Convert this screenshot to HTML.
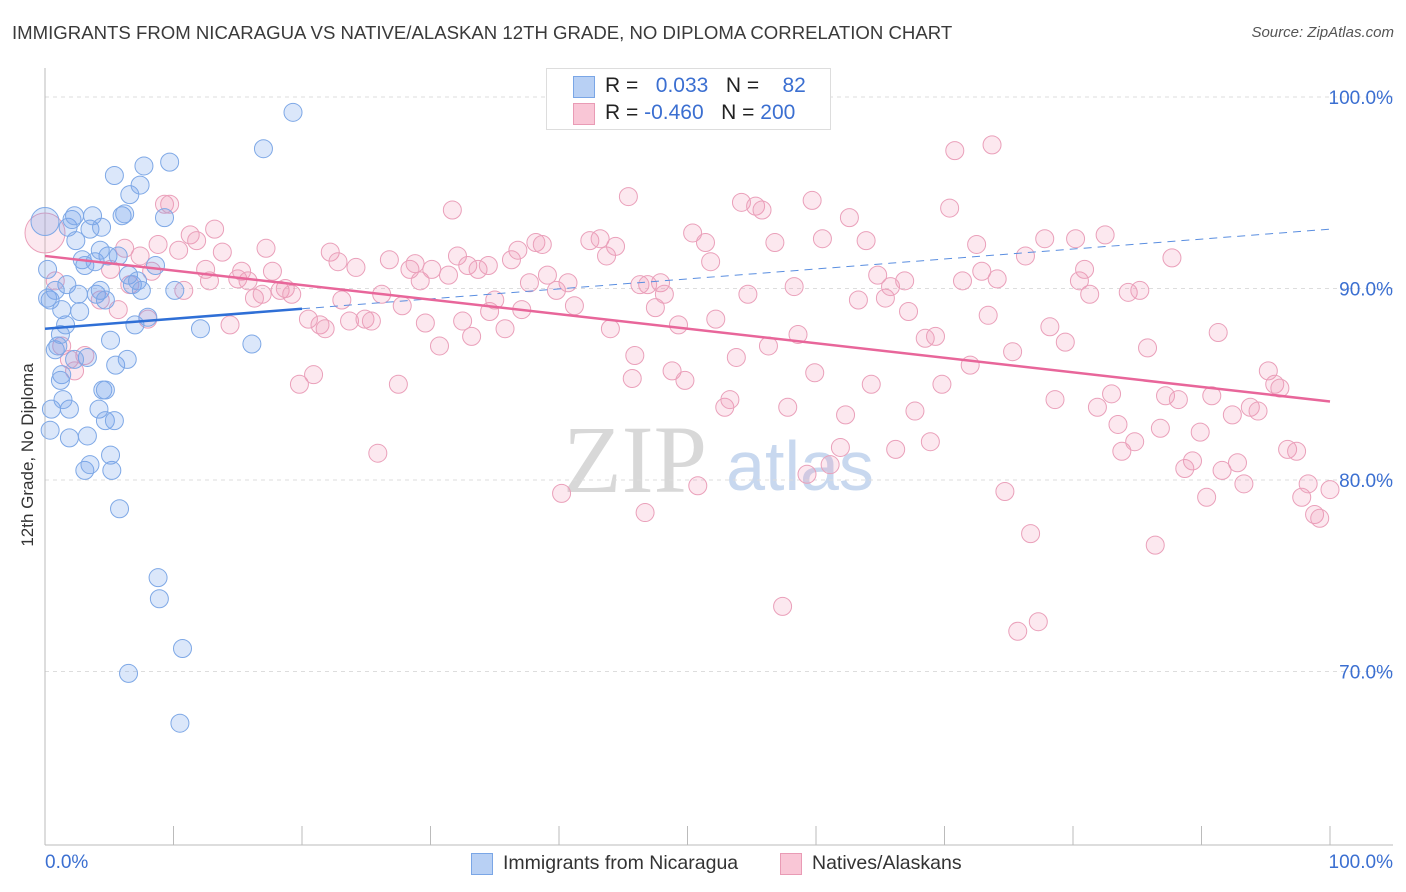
<!DOCTYPE html>
<html><head><meta charset="utf-8">
<style>
body{margin:0;background:#fff;font-family:"Liberation Sans",sans-serif;}
#wrap{position:relative;width:1406px;height:892px;overflow:hidden;}
.t{position:absolute;white-space:nowrap;}
</style></head><body>
<div id="wrap">
<div class="t" style="left:12px;top:22px;font-size:18.6px;color:#3a3a3a;">IMMIGRANTS FROM NICARAGUA VS NATIVE/ALASKAN 12TH GRADE, NO DIPLOMA CORRELATION CHART</div>
<div class="t" style="right:12px;top:24px;font-size:15px;color:#555;font-style:italic;">Source: ZipAtlas.com</div>
<svg id="svg" width="1406" height="892" style="position:absolute;left:0;top:0">
<text x="635" y="492" font-family="Liberation Serif,serif" font-size="96" fill="#d8d8d8" text-anchor="middle">ZIP</text>
<text x="800" y="490" font-family="Liberation Sans,sans-serif" font-size="70" fill="#c8d8ef" text-anchor="middle">atlas</text>
</svg>
<div class="t" style="left:28px;top:455px;font-size:17px;color:#333;transform:translate(-50%,-50%) rotate(-90deg);">12th Grade, No Diploma</div>
<div class="t" style="left:45px;top:852px;font-size:19px;color:#3b6fd1;">0.0%</div>
<div class="t" style="right:13px;top:852px;font-size:19px;color:#3b6fd1;">100.0%</div>
<div style="position:absolute;left:546px;top:68px;width:283px;height:60px;border:1px solid #ddd;background:#fff;">
 <div style="position:absolute;left:26px;top:7px;width:20px;height:20px;background:#b8d0f4;border:1px solid #7aa6e6;"></div>
 <div style="position:absolute;left:26px;top:34px;width:20px;height:20px;background:#f9c6d6;border:1px solid #e99bb5;"></div>
 <div class="t" style="left:58px;top:5px;font-size:21px;color:#222;">R = <span style="color:#3b6fd1">&nbsp;&nbsp;0.033</span>&nbsp;&nbsp;&nbsp;N = <span style="color:#3b6fd1">&nbsp;&nbsp;&nbsp;82</span></div>
 <div class="t" style="left:58px;top:32px;font-size:21px;color:#222;">R = <span style="color:#3b6fd1">-0.460</span>&nbsp;&nbsp;&nbsp;N = <span style="color:#3b6fd1">200</span></div>
</div>
<div style="position:absolute;left:471px;top:853px;width:20px;height:20px;background:#b8d0f4;border:1px solid #7aa6e6;"></div>
<div class="t" style="left:503px;top:852px;font-size:19.5px;color:#333;">Immigrants from Nicaragua</div>
<div style="position:absolute;left:780px;top:853px;width:20px;height:20px;background:#f9c6d6;border:1px solid #e99bb5;"></div>
<div class="t" style="left:812px;top:852px;font-size:19.5px;color:#333;">Natives/Alaskans</div>
</div>
<script>
const yTicks=[100,90,80,70];
const yTickLabels=["100.0%","90.0%","80.0%","70.0%"];
const xTicks=[0,10,20,30,40,50,60,70,80,90,100];
const blueX=[0.2,0.4,0.8,0.5,1.0,1.2,1.3,1.6,1.7,1.9,1.8,2.1,2.3,2.4,2.6,2.7,2.9,3.1,3.3,3.5,3.7,3.9,4.0,4.2,4.3,4.4,4.5,4.7,4.7,4.9,5.1,5.2,5.4,5.5,5.7,5.8,6.0,6.2,6.4,6.5,6.6,6.8,7.0,7.2,7.4,7.5,7.7,8.0,8.6,8.8,8.9,9.3,9.7,10.1,10.5,10.7,6.5,12.1,16.1,17.0,19.3,3.1,3.5,5.1,1.4,1.9,3.3,4.7,0.4,1.2,5.4,0.2,0.8,4.3,1.3,2.3,0];
const blueY=[91.0,89.4,86.8,83.7,87.0,87.6,85.5,88.1,90.2,83.7,93.2,93.6,93.8,92.5,89.7,88.8,91.5,91.2,86.4,93.1,93.8,91.4,89.7,83.7,89.9,93.2,84.7,89.4,83.1,91.7,87.3,80.5,95.9,86.0,91.7,78.5,93.8,93.9,86.3,90.7,94.9,90.2,88.1,90.4,95.4,89.9,96.4,88.5,91.2,74.9,73.8,93.7,96.6,89.9,67.3,71.2,69.9,87.9,87.1,97.3,99.2,80.5,80.8,81.3,84.2,82.2,82.3,84.7,82.6,85.2,83.1,89.5,89.9,92.0,88.9,86.3,93.5];
const pinkX=[0,0.8,1.3,1.9,2.3,3.1,4.3,5.1,5.7,6.2,6.6,7.4,8.0,8.3,8.8,9.3,9.7,10.4,10.8,11.3,11.8,12.5,12.8,13.2,13.8,14.4,15.0,15.3,15.8,16.3,16.9,17.2,17.7,18.3,18.7,19.2,19.8,20.5,20.9,21.4,21.8,22.2,22.8,23.1,23.7,24.2,24.9,25.4,25.9,26.2,26.8,27.5,27.8,28.4,28.8,29.2,29.6,30.1,30.7,31.4,31.7,32.1,32.5,32.9,33.2,33.7,34.5,34.6,35.0,35.8,36.3,36.8,37.1,37.7,38.2,38.7,39.1,39.8,40.2,40.7,41.2,42.4,43.2,43.7,44.0,44.4,45.4,45.7,45.9,46.3,46.7,46.9,47.5,47.9,48.2,48.8,49.3,49.8,50.4,50.8,51.4,51.8,52.2,52.9,53.3,53.8,54.2,54.7,55.3,55.8,56.3,56.8,57.4,57.8,58.3,58.6,59.3,59.7,59.9,60.5,61.1,61.9,62.3,62.6,63.3,63.9,64.3,64.8,65.4,65.8,66.2,66.9,67.2,67.7,68.5,68.9,69.3,69.8,70.4,70.8,71.4,72.0,72.5,72.9,73.4,73.7,74.1,74.7,75.3,75.7,76.3,76.7,77.3,77.8,78.2,78.6,79.4,80.2,80.5,80.9,81.3,81.9,82.5,83.0,83.5,83.8,84.3,84.8,85.2,85.8,86.4,86.8,87.2,87.7,88.2,88.7,89.3,89.9,90.4,90.8,91.3,91.6,92.4,92.8,93.3,93.8,94.4,95.2,95.7,96.1,96.7,97.4,97.8,98.3,98.8,99.2,100,60.2];
const pinkY=[92.9,90.4,87.0,86.3,85.7,86.5,89.4,91.0,88.9,92.1,90.2,91.7,88.4,90.9,92.3,94.4,94.4,92.0,89.9,92.8,92.5,91.0,90.4,93.1,91.9,88.1,90.5,90.9,90.4,89.5,89.7,92.1,90.9,89.9,90.0,89.7,85.0,88.4,85.5,88.1,87.9,91.9,91.4,89.4,88.3,91.1,88.4,88.3,81.4,89.7,91.5,85.0,89.1,91.0,91.3,90.4,88.2,91.0,87.0,90.7,94.1,91.7,88.3,91.2,87.5,91.0,91.2,88.8,89.4,87.9,91.5,92.0,88.9,90.3,92.4,92.3,90.7,89.9,79.3,90.3,89.1,92.5,92.6,91.7,87.9,92.2,94.8,85.3,86.5,90.2,78.3,90.2,89.0,90.3,89.7,85.7,88.1,85.2,92.9,79.7,92.4,91.4,88.4,83.8,84.2,86.4,94.5,89.7,94.3,94.1,87.0,92.4,73.4,83.8,90.1,87.6,80.3,94.6,85.6,92.6,80.8,81.7,83.4,93.7,89.4,92.5,85.0,90.7,89.5,90.1,81.6,90.4,88.8,83.6,87.4,82.0,87.5,85.0,94.2,97.2,90.4,86.0,92.3,90.9,88.6,97.5,90.5,79.4,86.7,72.1,91.7,77.2,72.6,92.6,88.0,84.2,87.2,92.6,90.4,91.0,89.7,83.8,92.8,84.5,82.9,81.5,89.8,82.0,89.9,86.9,76.6,82.7,84.4,91.6,84.2,80.6,81.0,82.5,79.1,84.4,87.7,80.5,83.4,80.9,79.8,83.8,83.6,85.7,85.0,84.8,81.6,81.5,79.1,79.8,78.2,78.0,79.5,99.7];
const blueTrend=[87.9,93.1];
const blueSolidEnd=20;
const pinkTrend=[91.7,84.1];
const NS='http://www.w3.org/2000/svg';
const svg=document.getElementById('svg');
const X=v=>45+v*12.85;
const Y=v=>97+(100-v)*19.15;
function mk(tag,attrs){const e=document.createElementNS(NS,tag);for(const k in attrs)e.setAttribute(k,attrs[k]);svg.appendChild(e);return e;}
yTicks.forEach((t,i)=>{
 const g=mk('line',{x1:45,x2:1393,y1:Y(t),y2:Y(t),stroke:'#ddd','stroke-dasharray':'4,4'});
 
 
 const l=mk('text',{x:1393,y:Y(t)+7,'text-anchor':'end','font-size':19,fill:'#3b6fd1','font-family':'Liberation Sans,sans-serif'});
 l.textContent=yTickLabels[i];
 
 
});
const ax=mk('line',{x1:45,x2:45,y1:68,y2:845,stroke:'#bbb'});


const bx=mk('line',{x1:45,x2:1393,y1:845,y2:845,stroke:'#bbb'});


xTicks.forEach(t=>{
 const k=mk('line',{x1:X(t),x2:X(t),y1:826,y2:845,stroke:'#bbb'});
 
 
});
pinkX.forEach((x,i)=>{
 const c=mk('circle',{cx:X(x),cy:Y(pinkY[i]),r:i===0?20:9,fill:'rgba(243,150,180,0.22)',stroke:'#eaa0ba','stroke-width':1});
 
 
});
blueX.forEach((x,i)=>{
 const c=mk('circle',{cx:X(x),cy:Y(blueY[i]),r:i===blueX.length-1?14:9,fill:'rgba(110,160,235,0.25)',stroke:'#7ea8e6','stroke-width':1});
 
 
});
const bAt=x=>blueTrend[0]+(blueTrend[1]-blueTrend[0])*x/100;
const bs=mk('line',{x1:X(0),y1:Y(bAt(0)),x2:X(blueSolidEnd),y2:Y(bAt(blueSolidEnd)),stroke:'#2f6fd6','stroke-width':2.5});


const bd=mk('line',{x1:X(blueSolidEnd),y1:Y(bAt(blueSolidEnd)),x2:X(100),y2:Y(bAt(100)),stroke:'#5a8ee0','stroke-width':1,'stroke-dasharray':'8,6'});


const pl=mk('line',{x1:X(0),y1:Y(pinkTrend[0]),x2:X(100),y2:Y(pinkTrend[1]),stroke:'#e8669a','stroke-width':2.5});


</script>
</body></html>
